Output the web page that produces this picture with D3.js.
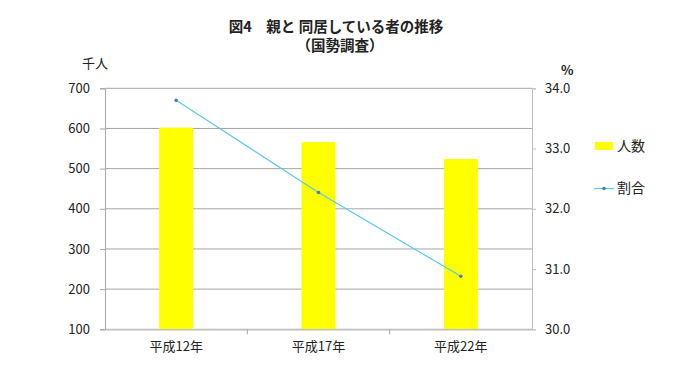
<!DOCTYPE html>
<html><head><meta charset="utf-8">
<script src="https://cdn.jsdelivr.net/npm/d3@7"></script>
<style>
html,body{margin:0;padding:0;background:#fff;}
text{font-family:"Noto Sans CJK JP","Noto Sans",sans-serif;fill:#222;}
</style></head>
<body>
<svg id="chart" width="700" height="377"></svg>
<script>
const categories = ["平成12年", "平成17年", "平成22年"];
const persons = [602, 566, 524];          // 千人
const ratio = [33.80, 32.27, 30.88];      // %
const leftTicks = [100, 200, 300, 400, 500, 600, 700];
const rightTicks = [30.0, 31.0, 32.0, 33.0, 34.0];
const seriesNames = ["人数", "割合"];

const svg = d3.select("#chart");
const L = 105, R = 532, T = 88.3, B = 329.3;

const x = d3.scaleBand().domain(categories).range([L, R]).padding(0);
const yL = d3.scaleLinear().domain([100, 700]).range([B, T]);
const yR = d3.scaleLinear().domain([30, 34]).range([B, T]);

// title
svg.append("text").attr("x", 336).attr("y", 32).attr("text-anchor", "middle")
  .attr("font-size", 14.5).attr("font-weight", "bold").text("図4\u3000親と 同居している者の推移");
svg.append("text").attr("x", 340).attr("y", 51).attr("text-anchor", "middle")
  .attr("font-size", 14.5).attr("font-weight", "bold").text("（国勢調査）");

// gridlines
svg.append("g").selectAll("line").data(leftTicks).join("line")
  .attr("x1", L).attr("x2", R).attr("y1", d => yL(d)).attr("y2", d => yL(d))
  .attr("stroke", "#a6a6a6").attr("stroke-width", 1);

// bars
const bw = 34;
svg.append("g").selectAll("rect").data(persons).join("rect")
  .attr("x", (d, i) => x(categories[i]) + x.bandwidth() / 2 - bw / 2)
  .attr("width", bw)
  .attr("y", d => yL(d)).attr("height", d => yL(100) - yL(d))
  .attr("fill", "#ffff00");

// left axis
const axL = svg.append("g").attr("transform", `translate(${L},0)`)
  .call(d3.axisLeft(yL).tickValues(leftTicks).tickSize(5).tickPadding(10));
axL.select(".domain").attr("stroke", "#a6a6a6");
axL.selectAll(".tick line").attr("stroke", "#a6a6a6");
axL.selectAll("text").attr("font-size", 13).attr("fill", "#222");

// right axis
const axR = svg.append("g").attr("transform", `translate(${R},0)`)
  .call(d3.axisRight(yR).tickValues(rightTicks).tickFormat(d3.format(".1f")).tickSize(4).tickPadding(9));
axR.select(".domain").attr("stroke", "#bfbfbf");
axR.selectAll(".tick line").attr("stroke", "#bfbfbf");
axR.selectAll("text").attr("font-size", 13).attr("fill", "#222");

// bottom axis
const axB = svg.append("g").attr("transform", `translate(0,${B})`)
  .call(d3.axisBottom(x).tickSize(0).tickPadding(12));
axB.select(".domain").attr("stroke", "#bfbfbf").attr("stroke-width", 1.5);
axB.selectAll("text").attr("font-size", 13).attr("fill", "#222");
svg.append("g").selectAll("line").data(categories.slice(1)).join("line")
  .attr("x1", d => x(d)).attr("x2", d => x(d)).attr("y1", B).attr("y2", B + 5)
  .attr("stroke", "#a6a6a6");

// line
const cx = (d, i) => x(categories[i]) + x.bandwidth() / 2;
svg.append("path").datum(ratio)
  .attr("d", d3.line().x(cx).y(d => yR(d)))
  .attr("fill", "none").attr("stroke", "#5bc8ee").attr("stroke-width", 1.2);
svg.append("g").selectAll("circle").data(ratio).join("circle")
  .attr("cx", cx).attr("cy", d => yR(d)).attr("r", 1.8).attr("fill", "#4a7ebb");

// unit labels
svg.append("text").attr("x", 82).attr("y", 68).attr("font-size", 13).text("千人");
svg.append("text").attr("x", 561).attr("y", 75).attr("font-size", 13).attr("font-weight", "bold").text("%");

// legend
svg.append("rect").attr("x", 595).attr("y", 142).attr("width", 18).attr("height", 8).attr("fill", "#ffff00");
svg.append("text").attr("x", 617).attr("y", 151).attr("font-size", 14).text(seriesNames[0]);
svg.append("line").attr("x1", 594).attr("x2", 614).attr("y1", 188.5).attr("y2", 188.5)
  .attr("stroke", "#5bc8ee").attr("stroke-width", 1.2);
svg.append("circle").attr("cx", 604).attr("cy", 188.5).attr("r", 1.8).attr("fill", "#4a7ebb");
svg.append("text").attr("x", 617).attr("y", 193).attr("font-size", 14).text(seriesNames[1]);
</script>
</body></html>
